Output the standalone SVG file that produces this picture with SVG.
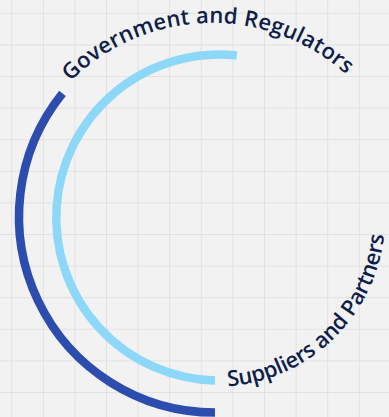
<svg xmlns="http://www.w3.org/2000/svg" width="389" height="417" viewBox="0 0 389 417">
  <style>
    .arc { fill: none; stroke-linecap: butt; stroke-width: 8.5; }
    .dark { stroke: #2D4DAE; }
    .light { stroke: #8DD8F8; }
    .lbl { font-family: "Open Sans", "Noto Sans", "Liberation Sans", sans-serif; font-size: 22px; font-weight: 600; fill: #0E1E4A; }
  </style>
  <defs>
    <pattern id="grid" patternUnits="userSpaceOnUse" x="11.2" y="12.8" width="31.6" height="31.6">
      <path d="M0.5 0 V31.6 M0 0.5 H31.6" stroke="#E1E1E1" stroke-width="1" fill="none"/>
    </pattern>
    <path id="govPath" d="M 70.5 81.5 A 200 200 0 0 1 346.9 75.3"/>
    <path id="supPath" d="M 228 386.5 A 170 170 0 0 0 384.4 231.8"/>
  </defs>
  <rect width="389" height="417" fill="#F2F2F2"/>
  <rect width="389" height="417" fill="url(#grid)"/>
  <g id="arcs">
    <path id="outer-arc" class="arc dark" d="M 62.5 93.4 A 196 196 0 0 0 215 412.5"/>
    <path id="inner-arc" class="arc light" d="M 236.8 55.5 A 163 163 0 1 0 215 380.5"/>
  </g>
  <g id="government">
    <text class="lbl"><textPath href="#govPath" textLength="304" lengthAdjust="spacing">Government and Regulators</textPath></text>
  </g>
  <g id="suppliers">
    <text class="lbl"><textPath href="#supPath" textLength="236" lengthAdjust="spacing">Suppliers and Partners</textPath></text>
  </g>
</svg>
